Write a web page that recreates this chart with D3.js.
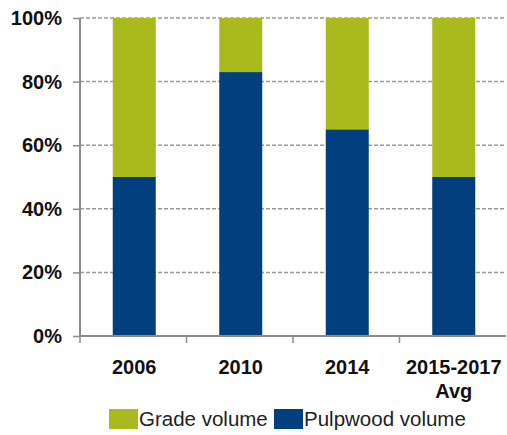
<!DOCTYPE html>
<html>
<head>
<meta charset="utf-8">
<script src="https://cdn.jsdelivr.net/npm/d3@7"></script>
<style>
  html, body { margin: 0; padding: 0; background: #fff; }
  svg { display: block; }
</style>
</head>
<body>
<svg id="chart" width="507" height="435"></svg>
<script>
// Share of harvest volume by product type
const categories = ["2006", "2010", "2014", "2015-2017\nAvg"];
const pulpwood = [50, 83, 65, 50];
const grade = [50, 17, 35, 50];
const yTicks = [0, 20, 40, 60, 80, 100];
const seriesNames = ["Grade volume", "Pulpwood volume"];
const colors = { grade: "#a9ba1c", pulpwood: "#023f7f" };

const svg = d3.select("#chart");
const plotLeft = 80, plotRight = 506, plotTop = 18, plotBottom = 336;

const xb = d3.scaleBand().domain(categories).range([plotLeft, plotRight]);
const y = d3.scaleLinear().domain([0, 100]).range([plotBottom, plotTop]);

// dashed gridlines
svg.append("g").selectAll("line").data(yTicks.filter(d => d > 0)).join("line")
  .attr("x1", plotLeft).attr("x2", plotRight)
  .attr("y1", d => y(d)).attr("y2", d => y(d))
  .attr("stroke", "#9a9a9a").attr("stroke-width", 1.5)
  .attr("stroke-dasharray", "4,2");

// stacked bars
const stack = d3.stack().keys(["pulpwood", "grade"])(
  categories.map((c, i) => ({ cat: c, pulpwood: pulpwood[i], grade: grade[i] }))
);
const bw = 43;
svg.append("g").selectAll("g").data(stack).join("g")
  .attr("fill", d => colors[d.key])
  .selectAll("rect").data(d => d).join("rect")
  .attr("x", d => xb(d.data.cat) + xb.bandwidth() / 2 - bw / 2 + 1)
  .attr("width", bw)
  .attr("y", d => y(d[1]))
  .attr("height", d => y(d[0]) - y(d[1]));

// y axis
const yAxis = svg.append("g").attr("transform", `translate(${plotLeft},0)`)
  .call(d3.axisLeft(y).tickValues(yTicks).tickFormat(d => d + "%").tickSize(7).tickPadding(11));
yAxis.select(".domain").attr("stroke", "#8c8c8c").attr("stroke-width", 2).attr("d", `M0,${plotTop}V${plotBottom}`);
yAxis.selectAll(".tick line").attr("stroke", "#8c8c8c").attr("stroke-width", 1.5);
yAxis.selectAll(".tick text")
  .attr("font-family", "Liberation Sans, Arial, sans-serif")
  .attr("font-weight", "bold").attr("font-size", 20).attr("fill", "#111");

// x axis
const xAxis = svg.append("g").attr("transform", `translate(0,${plotBottom})`);
xAxis.append("line").attr("x1", plotLeft).attr("x2", plotRight)
  .attr("stroke", "#8c8c8c").attr("stroke-width", 2);
xAxis.selectAll("line.tk").data(categories).join("line").attr("class", "tk")
  .attr("x1", d => xb(d)).attr("x2", d => xb(d)).attr("y1", 0).attr("y2", 7)
  .attr("stroke", "#8c8c8c").attr("stroke-width", 1.5);

const xl = xAxis.selectAll("text").data(categories).join("text")
  .attr("x", d => xb(d) + xb.bandwidth() / 2 + 1)
  .attr("y", 38)
  .attr("text-anchor", "middle")
  .attr("font-family", "Liberation Sans, Arial, sans-serif")
  .attr("font-weight", "bold").attr("font-size", 20).attr("fill", "#111");
xl.selectAll("tspan").data(d => d.split("\n")).join("tspan")
  .attr("x", function () { return d3.select(this.parentNode).attr("x"); })
  .attr("dy", (d, i) => i === 0 ? 0 : 24)
  .text(d => d);

// legend
const legend = svg.append("g").attr("font-family", "Liberation Sans, Arial, sans-serif")
  .attr("font-size", 20.5).attr("fill", "#222");
const legendItems = [
  { name: seriesNames[0], color: colors.grade, x: 109 },
  { name: seriesNames[1], color: colors.pulpwood, x: 274 }
];
legend.selectAll("rect").data(legendItems).join("rect")
  .attr("x", d => d.x).attr("y", 409).attr("width", 29).attr("height", 20)
  .attr("fill", d => d.color);
legend.selectAll("text").data(legendItems).join("text")
  .attr("x", d => d.x + 30).attr("y", 426).text(d => d.name);
</script>
</body>
</html>
